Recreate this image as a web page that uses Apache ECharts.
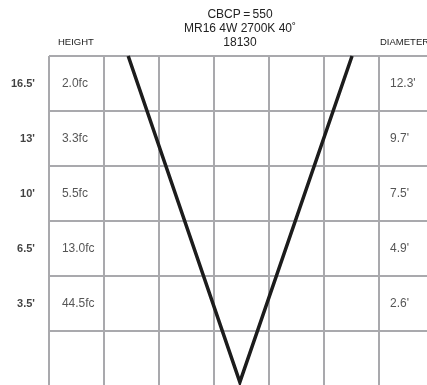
<!DOCTYPE html>
<html>
<head>
<meta charset="utf-8">
<script src="https://cdn.jsdelivr.net/npm/echarts@6/dist/echarts.min.js"></script>
<style>
html, body { margin: 0; padding: 0; background: #fff; }
#chart { width: 427px; height: 385px; }
</style>
</head>
<body>
<div id="chart"></div>
<script>
// rows from top to bottom
const heights = ["16.5'", "13'", "10'", "6.5'", "3.5'"]
const footcandles = ['2.0fc', '3.3fc', '5.5fc', '13.0fc', '44.5fc']
const diameters = ["12.3'", "9.7'", "7.5'", "4.9'", "2.6'"]
const titleLines = ['CBCP\u2009=\u2009550', 'MR16 4W 2700K 40\u02DA', '18130']
// beam outline, in grid cells (x: columns from left, y: rows from bottom)
const beamX = [1.44, 3.47, 5.51]
const beamY = [6, 0.07, 6]

const font = '"Liberation Sans", Arial, sans-serif'
const gridColor = '#a9a9ad'

const myChart = echarts.init(document.getElementById('chart'))

// put a text column in the middle of each row
function rowLabels (texts, x) {
  return texts.map((t, i) => ({ name: t, value: [x, 5.5 - i] }))
}

function textSeries (texts, x, align, style) {
  return {
    type: 'scatter',
    clip: false,
    symbolSize: 0,
    silent: true,
    data: rowLabels(texts, x),
    label: Object.assign({
      show: true,
      position: 'inside',
      align: align,
      verticalAlign: 'middle',
      formatter: p => p.name,
      fontFamily: font,
      fontSize: 12,
      color: '#2a2a2a'
    }, style || {})
  }
}

const option = {
  backgroundColor: '#fff',
  animation: false,
  // 7 columns x 6 rows of 55px cells, the last ones run off the canvas
  grid: {
    left: 49,
    top: 56,
    width: 385,
    height: 330,
    outerBoundsMode: 'none'
  },
  graphic: [
    {
      type: 'text',
      x: 240,
      y: 8,
      style: {
        text: titleLines.join('\n'),
        align: 'center',
        fontFamily: font,
        fontSize: 12,
        lineHeight: 14,
        fill: '#222'
      }
    },
    {
      type: 'text',
      x: 58,
      y: 37,
      style: { text: 'HEIGHT', fontFamily: font, fontSize: 9.5, fill: '#222' }
    },
    {
      type: 'text',
      x: 380,
      y: 37,
      style: { text: 'DIAMETER', fontFamily: font, fontSize: 9.5, fill: '#222' }
    }
  ],
  xAxis: {
    type: 'value',
    min: 0,
    max: 7,
    interval: 1,
    axisLine: { show: false },
    axisTick: { show: false },
    axisLabel: { show: false },
    splitLine: { show: true, lineStyle: { color: gridColor, width: 2 } }
  },
  yAxis: {
    type: 'value',
    min: 0,
    max: 6,
    interval: 1,
    axisLine: { show: false },
    axisTick: { show: false },
    axisLabel: { show: false },
    splitLine: { show: true, lineStyle: { color: gridColor, width: 2 } }
  },
  series: [
    {
      type: 'line',
      silent: true,
      symbol: 'none',
      data: beamX.map((x, i) => [x, beamY[i]]),
      lineStyle: { color: '#1c1c1c', width: 3.5, join: 'miter' }
    },
    textSeries(heights, -0.255, 'right', { fontWeight: 'bold', fontSize: 11, color: '#111' }),
    textSeries(footcandles, 0.235, 'left'),
    textSeries(diameters, 6.2, 'left')
  ]
}

myChart.setOption(option)
window.addEventListener('resize', () => {
  myChart.resize()
})
</script>
</body>
</html>
